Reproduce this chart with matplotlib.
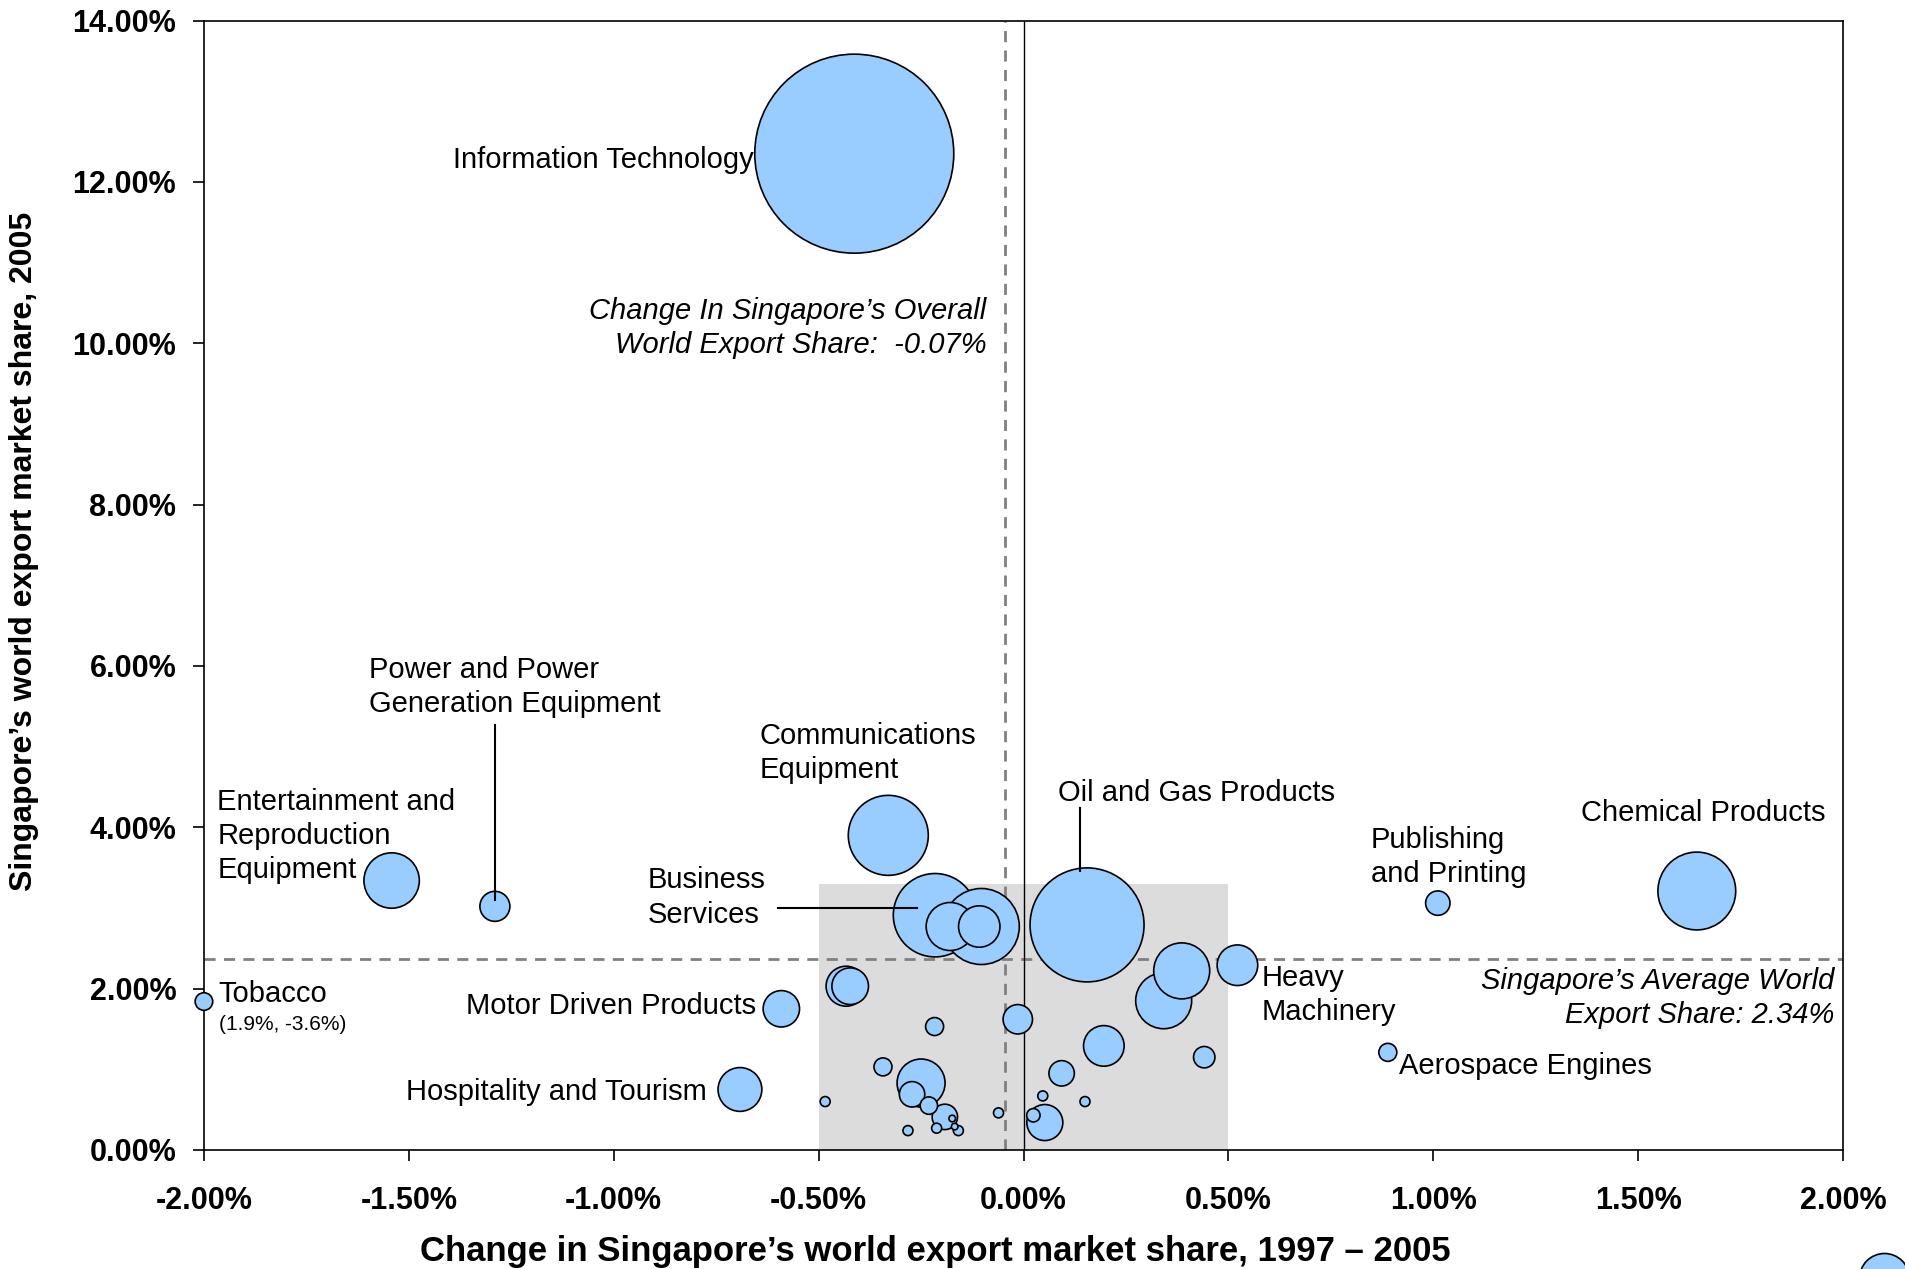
import numpy as np
import matplotlib.pyplot as plt
from matplotlib.patches import Rectangle
from matplotlib.ticker import FuncFormatter, MultipleLocator

plt.rcParams['font.family'] = ['Liberation Sans', 'DejaVu Sans']

# bubble data: change in share 1997-2005 (%), share 2005 (%), bubble radius (relative size)
chg = [-0.413, -0.330, -1.542, -1.290, -2.00, -0.591, -0.692, 1.643, 1.011, 0.889,
       -0.216, -0.103, -0.179, -0.108, 0.155, 0.386, 0.342, 0.522, -0.433, -0.423,
       -0.217, -0.014, 0.196, 0.441, -0.343, -0.250, -0.272, -0.231, -0.192, -0.174,
       -0.168, -0.159, -0.212, -0.282, -0.484, -0.061, 0.093, 0.047, 0.150, 0.052, 0.024]
share = [12.35, 3.90, 3.34, 3.02, 1.84, 1.75, 0.75, 3.21, 3.06, 1.21,
         2.91, 2.77, 2.77, 2.77, 2.79, 2.22, 1.85, 2.29, 2.03, 2.03,
         1.53, 1.62, 1.29, 1.15, 1.03, 0.83, 0.69, 0.55, 0.41, 0.39,
         0.29, 0.24, 0.27, 0.24, 0.60, 0.46, 0.95, 0.67, 0.60, 0.34, 0.43]
radius = [99.5, 40, 27.7, 15, 8.8, 18.2, 21.9, 38.9, 12.2, 9,
          41.7, 38, 24, 20.7, 57, 28, 28, 20.3, 20, 18.3,
          9, 14.7, 20.3, 10.7, 9, 24, 12.7, 8.7, 12.7, 3.3,
          3.3, 5, 5, 5, 5, 5, 12.7, 5, 5, 18, 6.7]

avg_share = 2.365
overall_chg = -0.045

fig = plt.figure(figsize=(19.06, 12.69), dpi=100)
ax = fig.add_axes([0.107, 0.0938, 0.860, 0.890])

ax.set_xlim(-2, 2)
ax.set_ylim(0, 14)

# shaded box around the cluster
ax.add_patch(Rectangle((-0.5, 0), 1.0, 3.3, facecolor='#dcdcdc', edgecolor='none', zorder=0))
ax.axhline(avg_share, color='#808080', lw=2, ls=(0, (4, 3)), zorder=1)
ax.axvline(overall_chg, color='#808080', lw=2, ls=(0, (4, 3)), zorder=1)
ax.axvline(0, color='black', lw=1, zorder=1)

order = np.argsort(radius)[::-1]
x = np.array(chg)[order]
y = np.array(share)[order]
s = (2 * np.array(radius)[order] * 0.72) ** 2
ax.scatter(x, y, s=s, facecolor='#99ccff', edgecolor='black', linewidth=1.2, zorder=3,
           clip_on=False)

# partially visible legend bubble outside the plot
ax.scatter([2.10], [-1.59], s=(2 * 25 * 0.72) ** 2, facecolor='#99ccff', edgecolor='black',
           linewidth=1.2, clip_on=False, zorder=3)

fs = 21
ls = 1.28
ax.text(-0.659, 12.27, 'Information Technology', fontsize=fs, ha='right', va='center')
ax.text(-0.090, 10.19, 'Change In Singapore\u2019s Overall\nWorld Export Share:  -0.07%',
        fontsize=fs, style='italic', ha='right', va='center', linespacing=ls)
ax.text(-1.597, 5.74, 'Power and Power\nGeneration Equipment', fontsize=fs, ha='left', va='center',
        linespacing=ls)
ax.text(-1.967, 3.89, 'Entertainment and\nReproduction\nEquipment', fontsize=fs, ha='left',
        va='center', linespacing=ls)
ax.text(-1.964, 1.93, 'Tobacco', fontsize=fs, ha='left', va='center')
ax.text(-1.964, 1.55, '(1.9%, -3.6%)', fontsize=15, ha='left', va='center')
ax.text(-0.644, 4.92, 'Communications\nEquipment', fontsize=fs, ha='left', va='center',
        linespacing=ls)
ax.text(-0.917, 3.13, 'Business\nServices', fontsize=fs, ha='left', va='center', linespacing=ls)
ax.text(-0.653, 1.78, 'Motor Driven Products', fontsize=fs, ha='right', va='center')
ax.text(-0.772, 0.72, 'Hospitality and Tourism', fontsize=fs, ha='right', va='center')
ax.text(0.083, 4.42, 'Oil and Gas Products', fontsize=fs, ha='left', va='center')
ax.text(0.581, 1.92, 'Heavy\nMachinery', fontsize=fs, ha='left', va='center', linespacing=ls)
ax.text(0.848, 3.63, 'Publishing\nand Printing', fontsize=fs, ha='left', va='center',
        linespacing=ls)
ax.text(1.361, 4.18, 'Chemical Products', fontsize=fs, ha='left', va='center')
ax.text(0.916, 1.04, 'Aerospace Engines', fontsize=fs, ha='left', va='center')
ax.text(1.978, 1.88, 'Singapore\u2019s Average World\nExport Share: 2.34%', fontsize=fs,
        style='italic', ha='right', va='center', linespacing=ls)

# leader lines
ax.plot([-1.290, -1.290], [5.27, 3.10], color='black', lw=1.5, zorder=4)
ax.plot([0.139, 0.139], [4.24, 3.46], color='black', lw=1.5, zorder=4)
ax.plot([-0.600, -0.261], [3.00, 3.00], color='black', lw=1.5, zorder=4)

ax.xaxis.set_major_locator(MultipleLocator(0.5))
ax.yaxis.set_major_locator(MultipleLocator(2))
ax.xaxis.set_major_formatter(FuncFormatter(lambda v, p: '%.2f%%' % v))
ax.yaxis.set_major_formatter(FuncFormatter(lambda v, p: '%.2f%%' % v))
ax.tick_params(direction='out', length=8, width=1.2, labelsize=22)
ax.tick_params(axis='x', pad=18)
ax.tick_params(axis='y', pad=12)
for lab in ax.get_xticklabels() + ax.get_yticklabels():
    lab.set_fontweight('bold')
for sp in ax.spines.values():
    sp.set_linewidth(1.2)

ax.set_xlabel('Change in Singapore\u2019s world export market share, 1997 \u2013 2005',
              fontsize=25, fontweight='bold')
ax.set_ylabel('Singapore\u2019s world export market share, 2005', fontsize=23,
              fontweight='bold')
ax.xaxis.set_label_coords(0.446, -0.0755)
ax.yaxis.set_label_coords(-0.1005, 0.530)

fig.savefig('out.png', dpi=100)
